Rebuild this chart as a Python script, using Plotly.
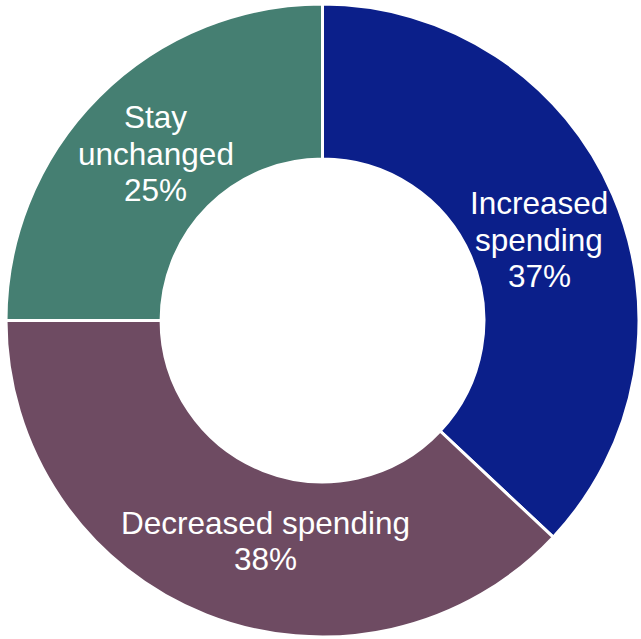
import math
import plotly.graph_objects as go

labels = ["Increased<br>spending", "Decreased spending", "Stay<br>unchanged"]
values = [37, 38, 25]
colors = ["#0b1f8a", "#6e4b62", "#457f72"]

# label placement style: radius fraction and small angle nudge (degrees)
label_r = [0.73, 0.72, 0.745]
label_nudge = [3, -7, 0]
FONT_SIZE = 31.5
LINE_PX = 36.5

W, H = 641, 639
DX = [6 / W, 639 / W]
DY = [1 - 637 / H, 1 - 4 / H]

fig = go.Figure(go.Pie(
    labels=labels,
    values=values,
    hole=0.51,
    sort=False,
    direction="clockwise",
    rotation=0,
    domain=dict(x=DX, y=DY),
    marker=dict(colors=colors, line=dict(color="white", width=3)),
    textinfo="none",
    showlegend=False,
    hoverinfo="label+percent",
))

total = sum(values)
cx = (DX[0] + DX[1]) / 2 * W
cy = (1 - (DY[0] + DY[1]) / 2) * H
R = min((DX[1] - DX[0]) * W, (DY[1] - DY[0]) * H) / 2
cum = 0
annotations = []
for lab, v, rf, nd in zip(labels, values, label_r, label_nudge):
    mid = (cum + v / 2) / total * 360 + nd
    cum += v
    a = math.radians(mid)
    px = cx + rf * R * math.sin(a)
    py = cy - rf * R * math.cos(a)
    lines = lab.split("<br>") + [f"{round(v / total * 100)}%"]
    n = len(lines)
    for i, t in enumerate(lines):
        ly = py + (i - (n - 1) / 2) * LINE_PX
        annotations.append(dict(
            x=px / W, y=1 - ly / H, xref="paper", yref="paper",
            text=t, showarrow=False, xanchor="center", yanchor="middle",
            font=dict(family="Liberation Sans, Arial", size=FONT_SIZE, color="white"),
        ))

fig.update_layout(
    width=W, height=H,
    margin=dict(l=0, r=0, t=0, b=0),
    paper_bgcolor="white",
    annotations=annotations,
)
fig.write_html("out.html")
